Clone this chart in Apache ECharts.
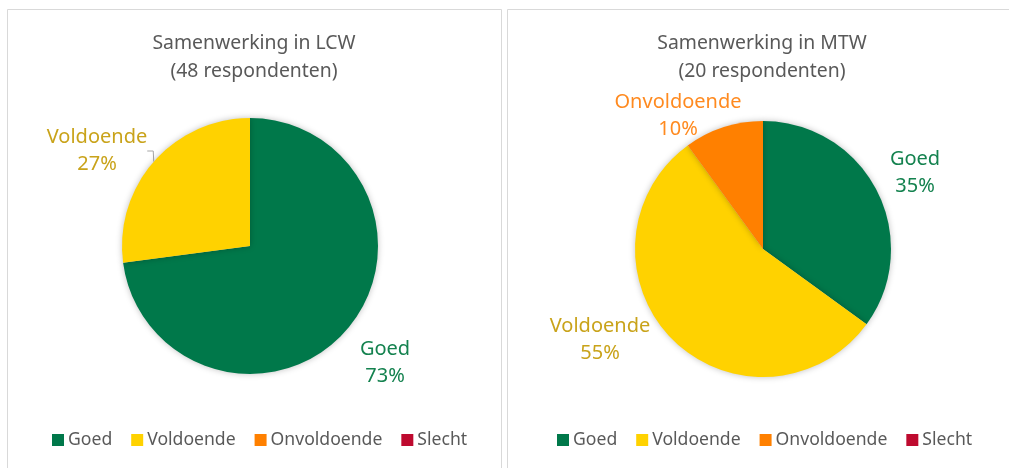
<!DOCTYPE html>
<html>
<head>
<meta charset="utf-8">
<script src="https://cdn.jsdelivr.net/npm/echarts@6/dist/echarts.min.js"></script>
<style>
html,body{margin:0;padding:0;background:#fff;}
#c{width:1009px;height:468px;}
</style>
</head>
<body>
<div id="c"></div>
<script>
// ---- data ----
const categories = ['Goed', 'Voldoende', 'Onvoldoende', 'Slecht'];
const lcwCounts = [35, 13, 0, 0];   // 48 respondenten -> 73% / 27%
const mtwCounts = [7, 11, 2, 0];    // 20 respondenten -> 35% / 55% / 10%
const titles = ['Samenwerking in LCW\n(48 respondenten)', 'Samenwerking in MTW\n(20 respondenten)'];

// ---- styling ----
const fillColors = ['#00784A', '#FFD200', '#FF8000', '#BE0A2F'];
const labelColors = ['#14824F', '#C9A31A', '#FF8A1F', '#BE0A2F'];
const FONT = 'Noto Sans';
// label centres (chart pixels) per slice, per panel
const lcwLabelPos = [[385, 363], [97, 151], null, null];
const mtwLabelPos = [[915, 173], [600, 340], [678, 116], null];

function makeData(counts) {
  return categories.map((name, i) => ({
    name: name,
    value: counts[i],
    itemStyle: { color: fillColors[i] },
    label: { color: labelColors[i] }
  }));
}

function pieSeries(counts, center, labelPos, showLineFor) {
  return {
    type: 'pie',
    center: center,
    radius: 128,
    startAngle: 90,
    clockwise: true,
    avoidLabelOverlap: false,
    percentPrecision: 0,
    minShowLabelAngle: 0.5,
    animation: false,
    silent: true,
    itemStyle: { shadowBlur: 6, shadowColor: 'rgba(0,0,0,0.25)', borderWidth: 0 },
    label: {
      position: 'outside',
      formatter: '{b}\n{d}%',
      fontFamily: FONT,
      fontSize: 20,
      lineHeight: 27
    },
    labelLine: { show: false },
    data: makeData(counts).map((d, i) => {
      if (showLineFor === i) {
        d.labelLine = { show: true, length: 8, length2: 6, lineStyle: { color: '#A6A6A6', width: 1 } };
      }
      return d;
    }),
    labelLayout: function (p) {
      const pos = labelPos[p.dataIndex];
      if (!pos) return {};
      return { x: pos[0], y: pos[1], align: 'center', verticalAlign: 'middle' };
    }
  };
}

function legend(left) {
  return {
    data: categories,
    left: left,
    top: 430,
    padding: 0,
    icon: 'rect',
    itemWidth: 12,
    itemHeight: 12,
    itemGap: 19,
    selectedMode: false,
    textStyle: { fontFamily: FONT, fontSize: 17.6, color: '#595959', padding: [0, 0, 0, -1], lineHeight: 20 }
  };
}

const chart = echarts.init(document.getElementById('c'), null, { renderer: 'canvas' });
chart.setOption({
  backgroundColor: '#fff',
  animation: false,
  graphic: [
    { type: 'rect', shape: { x: 7.5, y: 9.5, width: 494, height: 470 }, style: { fill: 'none', stroke: '#D9D9D9', lineWidth: 1 }, silent: true, z: -1 },
    { type: 'rect', shape: { x: 507.5, y: 9.5, width: 510, height: 470 }, style: { fill: 'none', stroke: '#D9D9D9', lineWidth: 1 }, silent: true, z: -1 }
  ],
  title: [
    { text: titles[0], left: 254, top: 29, textAlign: 'center', padding: 0,
      textStyle: { fontFamily: FONT, fontSize: 19.4, fontWeight: 'normal', color: '#595959', lineHeight: 28 } },
    { text: titles[1], left: 762, top: 29, textAlign: 'center', padding: 0,
      textStyle: { fontFamily: FONT, fontSize: 19.4, fontWeight: 'normal', color: '#595959', lineHeight: 28 } }
  ],
  legend: [legend(52), legend(557)],
  series: [
    pieSeries(lcwCounts, [250, 246], lcwLabelPos, 1),
    pieSeries(mtwCounts, [763, 249], mtwLabelPos, -1)
  ]
});
</script>
</body>
</html>
